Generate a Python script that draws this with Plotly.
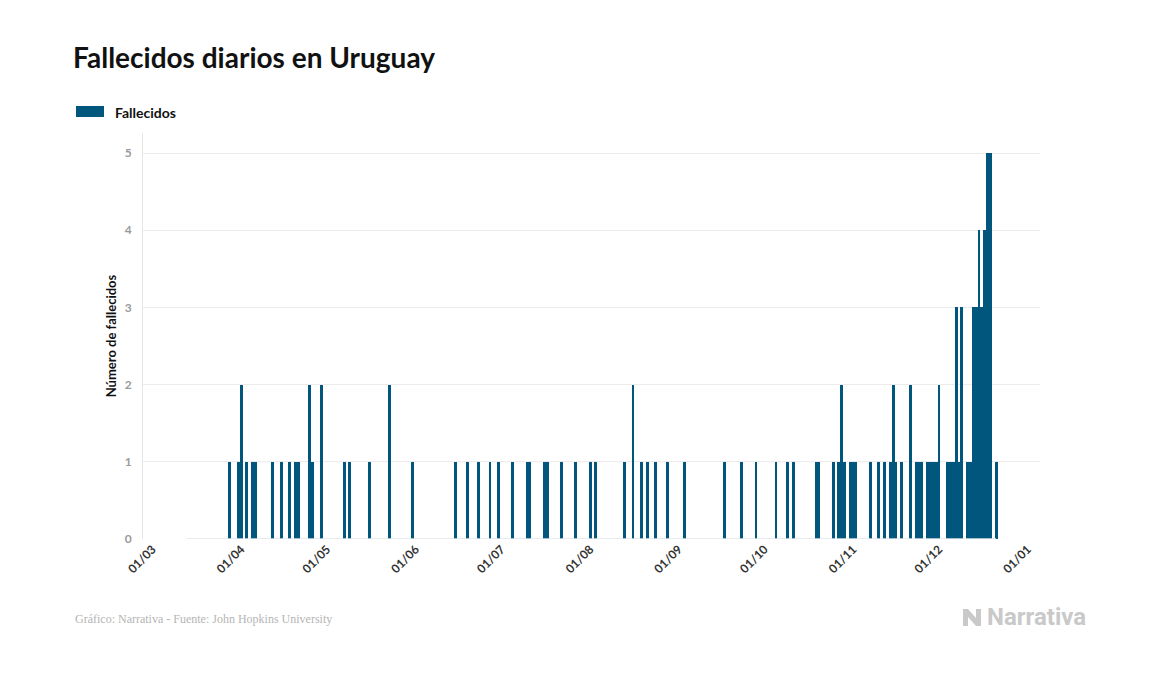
import pandas as pd
import plotly.graph_objects as go

# ---- data ----
series_start = "2020-03-13"
series_end = "2020-12-21"

dates_1 = ["2020-03-28", "2020-03-31", "2020-04-03", "2020-04-05", "2020-04-06",
           "2020-04-12", "2020-04-15", "2020-04-18", "2020-04-20", "2020-04-21",
           "2020-04-26", "2020-05-07", "2020-05-09", "2020-05-16", "2020-05-31",
           "2020-06-15", "2020-06-19", "2020-06-23", "2020-06-27", "2020-06-30",
           "2020-07-05", "2020-07-10", "2020-07-11", "2020-07-16", "2020-07-17",
           "2020-07-22", "2020-07-27", "2020-08-01", "2020-08-03", "2020-08-13",
           "2020-08-19", "2020-08-21", "2020-08-24", "2020-08-28", "2020-09-03",
           "2020-09-17", "2020-09-23", "2020-09-28", "2020-10-05", "2020-10-09",
           "2020-10-11", "2020-10-19", "2020-10-20", "2020-10-25", "2020-10-27",
           "2020-10-29", "2020-10-31", "2020-11-01", "2020-11-02", "2020-11-07",
           "2020-11-10", "2020-11-12", "2020-11-14", "2020-11-16", "2020-11-18",
           "2020-11-23", "2020-11-24", "2020-11-25", "2020-11-27", "2020-11-28",
           "2020-11-29", "2020-11-30", "2020-12-04", "2020-12-05", "2020-12-06",
           "2020-12-08", "2020-12-11", "2020-12-12", "2020-12-21"]
dates_2 = ["2020-04-01", "2020-04-25", "2020-04-29", "2020-05-23", "2020-08-16",
           "2020-10-28", "2020-11-15", "2020-11-21", "2020-12-01"]
dates_3 = ["2020-12-07", "2020-12-09", "2020-12-13", "2020-12-14", "2020-12-16"]
dates_4 = ["2020-12-15", "2020-12-17"]
dates_5 = ["2020-12-18", "2020-12-19"]

y_ticks = [0, 1, 2, 3, 4, 5]

# ---- build daily series ----
days = pd.date_range(series_start, series_end, freq="D")
deaths = pd.Series(0, index=days)
for val, lst in [(1, dates_1), (2, dates_2), (3, dates_3), (4, dates_4), (5, dates_5)]:
    for d in lst:
        deaths[pd.Timestamp(d)] = val

BAR = "#00567d"
FONT = "Lato"

# page body has an 8px margin; work in figure coordinates = screen - 8
W, H = 1149, 666
L, R, T, B = 135, 1032, 125, 531   # plot area in figure pixels
PW, PH = R - L, B - T


def px(x):
    return (x - 8 - L) / PW


def py(y):
    return (B - (y - 8)) / PH


fig = go.Figure()
fig.add_trace(go.Scatter(
    x=[days[0], days[-1]], y=[0, 0], mode="lines",
    line=dict(color="#dde4e9", width=1.5), hoverinfo="skip", showlegend=False))
fig.add_trace(go.Bar(
    x=deaths.index, y=deaths.values, name="Fallecidos",
    marker=dict(color=BAR, line=dict(width=0)), showlegend=False))

fig.update_layout(
    width=W, height=H,
    paper_bgcolor="white", plot_bgcolor="white",
    margin=dict(l=L, r=W - R, t=T, b=H - B),
    bargap=0,
    font=dict(family=FONT, color="#333"),
    title=dict(text="<b>Fallecidos diarios en Uruguay</b>", x=(73 - 8) / W, xanchor="left",
               y=1 - (58 - 8) / H, yanchor="middle",
               font=dict(family=FONT, size=28, color="#111")),
)

fig.update_xaxes(
    type="date",
    range=["2020-02-26 16:00", "2021-01-05 08:00"],
    tick0="2020-03-01", dtick="M1", tickformat="%d/%m",
    tickangle=-45, ticks="", showgrid=False, zeroline=False,
    showline=False,
    tickfont=dict(family=FONT, size=12, color="#333", weight="bold"),
)
fig.update_yaxes(
    range=[0, 5.26], tickvals=y_ticks, ticks="",
    showgrid=True, gridcolor="#ececec", gridwidth=1, zeroline=False,
    showline=True, linecolor="#e6e6e6", linewidth=1,
    tickfont=dict(family=FONT, size=12, color="#9a9a9a", weight="bold"),
    ticklabelstandoff=8,
    title=dict(text="<b>Número de fallecidos</b>", standoff=5,
               font=dict(family=FONT, size=13, color="#111")),
)

# legend (drawn manually)
fig.add_shape(type="rect", xref="paper", yref="paper",
              x0=px(76), x1=px(104), y0=py(117), y1=py(106),
              fillcolor=BAR, line=dict(width=0))
fig.add_annotation(text="<b>Fallecidos</b>", xref="paper", yref="paper",
                   x=px(113), y=py(112), xanchor="left", yanchor="middle",
                   showarrow=False, font=dict(family=FONT, size=14, color="#111"))

# footer
fig.add_annotation(text="Gráfico: Narrativa - Fuente: John Hopkins University",
                   xref="paper", yref="paper", x=px(73), y=py(619),
                   xanchor="left", yanchor="middle", showarrow=False,
                   font=dict(family="Liberation Serif", size=12, color="#b5b5b5"))
fig.add_annotation(text="<b>Narrativa</b>", xref="paper", yref="paper",
                   x=px(985), y=py(617),
                   xanchor="left", yanchor="middle", showarrow=False,
                   font=dict(family="Roboto", size=24, color="#c9c9c9"))
# logo icon
icon = (f"M {px(963)} {py(626)} L {px(963)} {py(609)} L {px(968)} {py(609)} "
        f"L {px(976)} {py(618)} L {px(976)} {py(609)} L {px(981)} {py(609)} "
        f"L {px(981)} {py(626)} L {px(976)} {py(626)} L {px(968)} {py(617)} "
        f"L {px(968)} {py(626)} Z")
fig.add_shape(type="path", xref="paper", yref="paper", path=icon,
              fillcolor="#c9c9c9", line=dict(width=0))

fig.write_html("out.html")
